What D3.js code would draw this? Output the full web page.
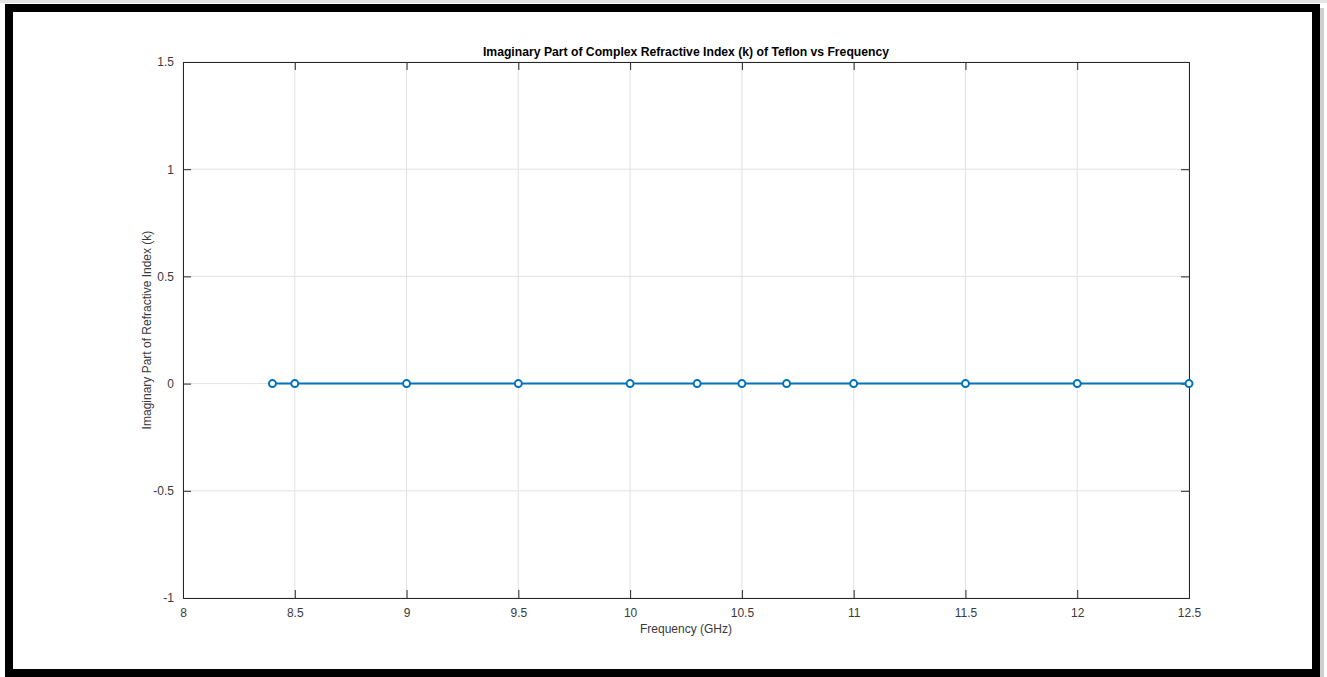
<!DOCTYPE html>
<html>
<head>
<meta charset="utf-8">
<script src="https://cdn.jsdelivr.net/npm/d3@7"></script>
<style>
  body { margin: 0; background: #fff; }
  svg text { font-family: "Liberation Sans", Arial, Helvetica, sans-serif; }
</style>
</head>
<body>
<div id="chart"></div>
<script>
// Imaginary part of k for Teflon, X-band sweep
const freqs = [8.4, 8.5, 9, 9.5, 10, 10.3, 10.5, 10.7, 11, 11.5, 12, 12.5];
const kValues = [0, 0, 0, 0, 0, 0, 0, 0, 0, 0, 0, 0];
const xTicks = [8, 8.5, 9, 9.5, 10, 10.5, 11, 11.5, 12, 12.5];
const yTicks = [-1, -0.5, 0, 0.5, 1, 1.5];

const W = 1327, H = 677;
const margin = { top: 62, right: 138, bottom: 79, left: 183 };
const innerW = W - margin.left - margin.right;
const innerH = H - margin.top - margin.bottom;
const blue = '#0072BD';
const axisColor = '#262626';

const svg = d3.select('#chart').append('svg')
    .attr('width', W)
    .attr('height', H);

// framed screenshot look
svg.append('rect')
    .attr('x', 0).attr('y', 0).attr('width', W).attr('height', 3)
    .attr('fill', '#e4e4e4');
svg.append('rect')
    .attr('x', 1320).attr('y', 8).attr('width', 4).attr('height', 669)
    .attr('fill', '#cfcfcf');
svg.append('rect')
    .attr('x', 9).attr('y', 8)
    .attr('width', 1307).attr('height', 665)
    .attr('fill', '#fff')
    .attr('stroke', '#000')
    .attr('stroke-width', 8);

const g = svg.append('g')
    .attr('transform', `translate(${margin.left},${margin.top})`);

const x = d3.scaleLinear().domain([8, 12.5]).range([0, innerW]);
const y = d3.scaleLinear().domain([-1, 1.5]).range([innerH, 0]);

// grid
g.append('g')
    .selectAll('line')
    .data(xTicks)
    .join('line')
    .attr('x1', d => x(d)).attr('x2', d => x(d))
    .attr('y1', 0).attr('y2', innerH)
    .attr('stroke', '#e2e2e2')
    .attr('stroke-width', 1);

g.append('g')
    .selectAll('line')
    .data(yTicks)
    .join('line')
    .attr('x1', 0).attr('x2', innerW)
    .attr('y1', d => y(d)).attr('y2', d => y(d))
    .attr('stroke', '#e2e2e2')
    .attr('stroke-width', 1);

// axes (MATLAB style: inward ticks, box on)
const plain = d => String(d);
const xAxis = g.append('g')
    .attr('transform', `translate(0,${innerH})`)
    .call(d3.axisBottom(x).tickValues(xTicks).tickSize(-8).tickPadding(10).tickFormat(plain));
const xTop = g.append('g')
    .call(d3.axisTop(x).tickValues(xTicks).tickSize(-8).tickFormat(''));
const yAxis = g.append('g')
    .call(d3.axisLeft(y).tickValues(yTicks).tickSize(-8).tickPadding(9).tickFormat(plain));
const yRight = g.append('g')
    .attr('transform', `translate(${innerW},0)`)
    .call(d3.axisRight(y).tickValues(yTicks).tickSize(-8).tickFormat(''));

[xAxis, xTop, yAxis, yRight].forEach(a => {
    a.select('.domain').attr('stroke', axisColor).attr('stroke-width', 1);
    a.selectAll('.tick line').attr('stroke', axisColor).attr('stroke-width', 1);
    a.selectAll('.tick text')
        .attr('fill', '#3a3a3a')
        .attr('font-size', 12);
});

// data line + open circle markers
const line = d3.line()
    .x((d, i) => x(freqs[i]))
    .y(d => y(d));

g.append('path')
    .datum(kValues)
    .attr('d', line)
    .attr('fill', 'none')
    .attr('stroke', blue)
    .attr('stroke-width', 2);

g.selectAll('.marker')
    .data(kValues)
    .join('circle')
    .attr('class', 'marker')
    .attr('cx', (d, i) => x(freqs[i]))
    .attr('cy', d => y(d))
    .attr('r', 3.5)
    .attr('fill', '#fff')
    .attr('stroke', blue)
    .attr('stroke-width', 2);

// title and labels
g.append('text')
    .attr('x', innerW / 2)
    .attr('y', -6)
    .attr('text-anchor', 'middle')
    .attr('font-size', 12.2)
    .attr('font-weight', 'bold')
    .attr('fill', '#000')
    .text('Imaginary Part of Complex Refractive Index (k) of Teflon vs Frequency');

g.append('text')
    .attr('x', innerW / 2)
    .attr('y', innerH + 35)
    .attr('text-anchor', 'middle')
    .attr('font-size', 12)
    .attr('fill', '#3a3a3a')
    .text('Frequency (GHz)');

g.append('text')
    .attr('transform', 'rotate(-90)')
    .attr('x', -y(0.25))
    .attr('y', -32)
    .attr('text-anchor', 'middle')
    .attr('font-size', 12)
    .attr('fill', '#3a3a3a')
    .text('Imaginary Part of Refractive Index (k)');
</script>
</body>
</html>
